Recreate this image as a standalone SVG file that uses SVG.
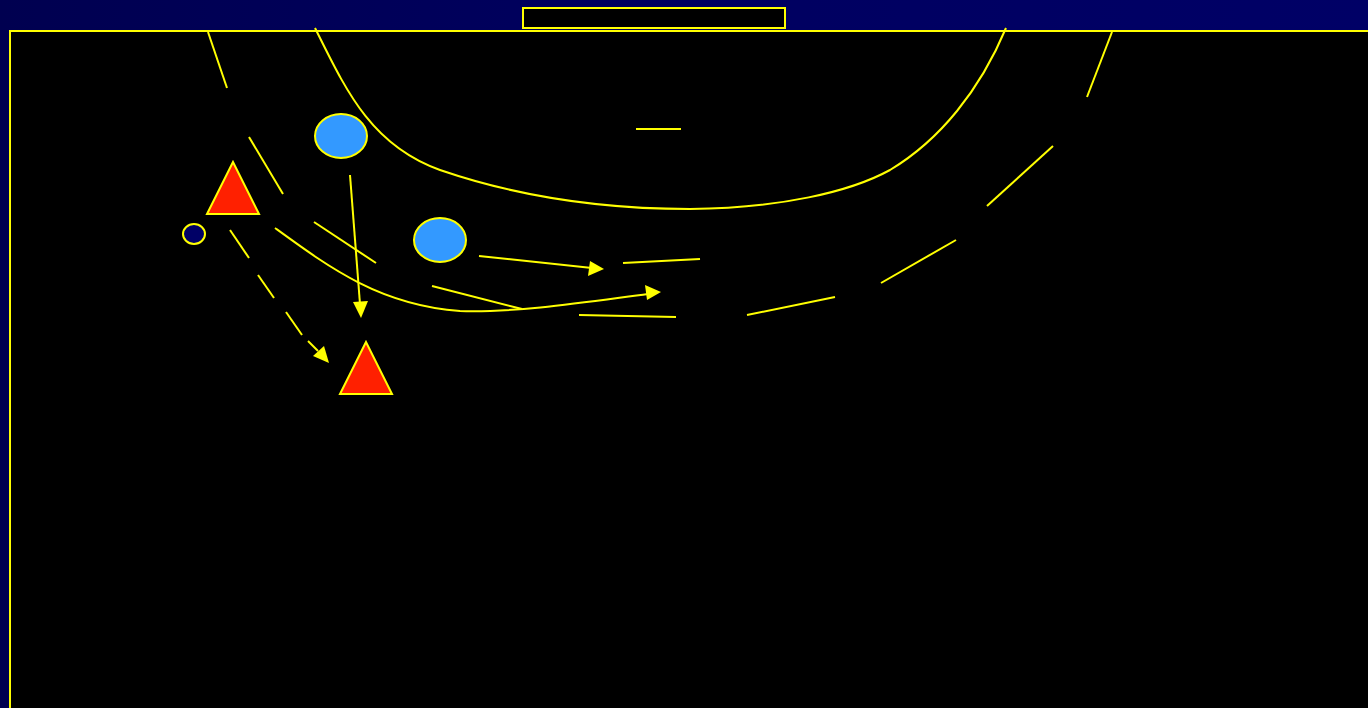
<svg xmlns="http://www.w3.org/2000/svg" width="1368" height="708" viewBox="0 0 1368 708">
<defs>
<linearGradient id="bg" x1="0" y1="0" x2="1" y2="0">
<stop offset="0" stop-color="#000050"/>
<stop offset="0.5" stop-color="#000060"/>
<stop offset="1" stop-color="#000066"/>
</linearGradient>
<marker id="ah" viewBox="0 0 10 10" refX="10" refY="5" markerWidth="8" markerHeight="8" markerUnits="userSpaceOnUse" orient="auto">
<path d="M0,0 L10,5 L0,10 Z" fill="#ffff00"/>
</marker>
</defs>
<style>
.ln{stroke:#ffff00;stroke-width:2;fill:none}
.pl{stroke:#ffff00;stroke-width:2;fill:#3399ff}
.df{stroke:#ffff00;stroke-width:2;fill:#ff2000}
.head{fill:#ffff00;stroke:none}
</style>
<rect x="0" y="0" width="1368" height="708" fill="url(#bg)"/>
<g id="court">
<rect x="10" y="31" width="1380" height="700" fill="#000000" stroke="#ffff00" stroke-width="2"/>
<rect x="523" y="8" width="262" height="20" fill="#000000" stroke="#ffff00" stroke-width="2"/>
<path class="ln" d="M315,28 C345,88 370,145 440,170 C510,194 590,209 690,209 C780,208 850,192 890,170 C940,140 980,90 1006,28"/>
<line class="ln" x1="636" y1="129" x2="681" y2="129"/>
<g id="ninem">
<line class="ln" x1="208" y1="32" x2="227" y2="88"/>
<line class="ln" x1="249" y1="137" x2="283" y2="194"/>
<line class="ln" x1="314" y1="222" x2="376" y2="263"/>
<line class="ln" x1="432" y1="286" x2="522" y2="309"/>
<line class="ln" x1="579" y1="315" x2="676" y2="317"/>
<line class="ln" x1="747" y1="315" x2="835" y2="297"/>
<line class="ln" x1="881" y1="283" x2="956" y2="240"/>
<line class="ln" x1="987" y1="206" x2="1053" y2="146"/>
<line class="ln" x1="1087" y1="97" x2="1112" y2="32"/>
</g>
</g>
<g id="connectors">
<line class="ln" x1="350" y1="175" x2="360" y2="304"/>
<path class="head" d="M361,318 L353,302 L368,301 Z"/>
<line class="ln" x1="479" y1="256" x2="592" y2="268"/>
<path class="head" d="M604,269 L588,276 L590,261 Z"/>
<line class="ln" x1="623" y1="263" x2="700" y2="259"/>
<path class="ln" d="M275,228 C330,268 380,305 460,311 C520,313 600,300 648,294"/>
<path class="head" d="M661,292 L647,300 L645,285 Z"/>
<g class="ln">
<line x1="230" y1="230" x2="249" y2="258"/>
<line x1="258" y1="275" x2="274" y2="298"/>
<line x1="286" y1="312" x2="302" y2="335"/>
<line x1="308" y1="341" x2="318" y2="351"/>
</g>
<path class="head" d="M329,363 L313,356 L324,346 Z"/>
</g>
<g id="attacker1"><ellipse class="pl" cx="341" cy="136" rx="26" ry="22"/></g>
<g id="attacker2"><ellipse class="pl" cx="440" cy="240" rx="26" ry="22"/></g>
<g id="defender1"><polygon class="df" points="233,162 207,214 259,214"/></g>
<g id="defender2"><polygon class="df" points="366,342 340,394 392,394"/></g>
<g id="ball"><ellipse cx="194" cy="234" rx="11" ry="10" fill="#000066" stroke="#ffff00" stroke-width="2"/></g>
</svg>
